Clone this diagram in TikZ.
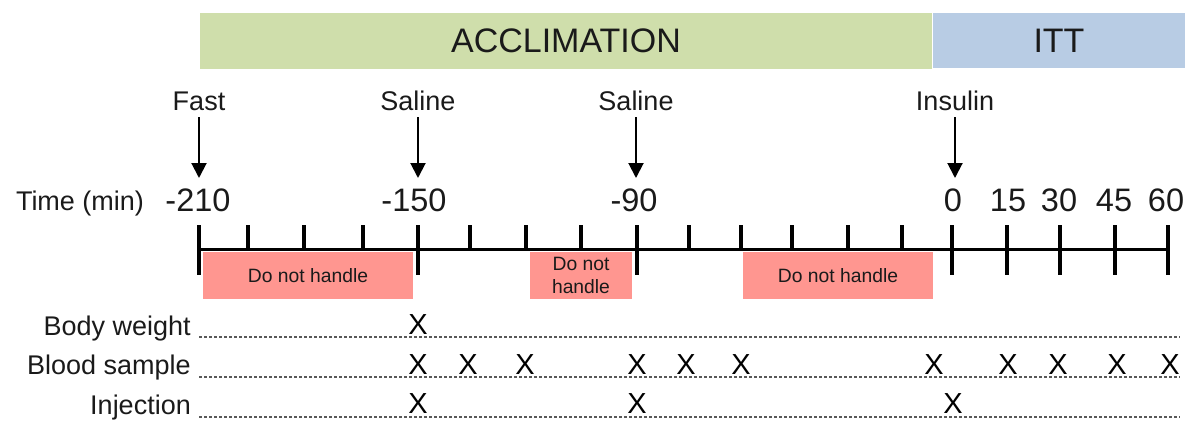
\documentclass[tikz,border=0pt]{standalone}
\usepackage{fontspec}
\setmainfont{Liberation Sans}
\usetikzlibrary{arrows.meta}
\definecolor{acclcol}{HTML}{CFDEAB}
\definecolor{ittcol}{HTML}{B8CCE4}
\definecolor{nohcol}{HTML}{FF9690}
\definecolor{txt}{HTML}{1A1A1A}
\begin{document}
\begin{tikzpicture}[x=1pt,y=-1pt,
  phase/.style={fill=#1,draw=none,inner sep=0pt,text=txt,font=\fontsize{34}{38}\selectfont},
  lbl/.style={inner sep=0pt,text=txt,font=\fontsize{27}{31}\selectfont},
  num/.style={inner sep=0pt,text=txt,font=\fontsize{32.5}{36}\selectfont,anchor=base},
  rowlbl/.style={inner sep=0pt,text=txt,font=\fontsize{27}{31}\selectfont,anchor=base east},
  xmark/.style={inner sep=0pt,text=black,font=\fontsize{29}{32}\selectfont,anchor=base},
  nohbox/.style={fill=nohcol,draw=none,inner sep=0pt,text=txt,align=center,font=\fontsize{19.3}{23}\selectfont,minimum height=47pt},
  arr/.style={line width=2pt,-{Triangle[width=15pt,length=15pt]}},
  axisline/.style={line width=3pt},
  tickmark/.style={line width=3.5pt},
  rowline/.style={draw=black!65,line width=1.1pt,dash pattern=on 3pt off 2pt}
]
\useasboundingbox (0,0) rectangle (1200,434);

% phase bars
\node[phase=acclcol,minimum width=732pt,minimum height=56pt] (accl) at (566,41) {ACCLIMATION};
\node[phase=ittcol,minimum width=252pt,minimum height=55pt] (itt) at (1059,40.5) {ITT};

% event labels and arrows
\node[lbl,anchor=base] (fast) at (199,110) {Fast};
\node[lbl,anchor=base] (sal1) at (418,110) {Saline};
\node[lbl,anchor=base] (sal2) at (636,110) {Saline};
\node[lbl,anchor=base] (ins) at (955,110) {Insulin};
\coordinate (fastend) at (199,178);
\coordinate (sal1end) at (418,178);
\coordinate (sal2end) at (636,178);
\coordinate (insend) at (955,178);
\draw[arr,shorten <=7pt] (fast.south) -- (fastend);
\draw[arr,shorten <=7pt] (sal1.south) -- (sal1end);
\draw[arr,shorten <=7pt] (sal2.south) -- (sal2end);
\draw[arr,shorten <=7pt] (ins.south) -- (insend);

% time labels
\node[lbl,anchor=base] (timelbl) at (80,210) {Time (min)};
\node[num] (n210) at (198,211) {-210};
\node[num] (n150) at (414,211) {-150};
\node[num] (n90) at (634,211) {-90};
\node[num] (n0) at (953,211) {0};
\node[num] (n15) at (1008,211) {15};
\node[num] (n30) at (1059,211) {30};
\node[num] (n45) at (1114,211) {45};
\node[num] (n60) at (1166,211) {60};

% axis
\coordinate (axL) at (199,249);
\coordinate (axR) at (1168,249);
\draw[axisline] (axL) -- (axR);
\foreach \x in {248,304,363,470,526,581,689,741,792,848,902}
  \draw[tickmark] (\x,225) -- (\x,249);
\foreach \x in {199,418,637,952,1007,1060,1115,1168}
  \draw[tickmark] (\x,225) -- (\x,275);

% do not handle boxes
\node[nohbox,minimum width=210pt] (noh1) at (308,275.5) {Do not handle};
\node[nohbox,minimum width=102pt] (noh2) at (581,275.5) {Do not\\handle};
\node[nohbox,minimum width=190pt] (noh3) at (838,275.5) {Do not handle};

% rows
\node[rowlbl] (bw) at (191,335) {Body weight};
\node[rowlbl] (bs) at (191,374) {Blood sample};
\node[rowlbl] (inj) at (191,414) {Injection};
\coordinate (bwL) at (199,337); \coordinate (bwR) at (1180,337);
\coordinate (bsL) at (199,377); \coordinate (bsR) at (1180,377);
\coordinate (injL) at (199,417); \coordinate (injR) at (1180,417);
\draw[rowline] (bwL) -- (bwR);
\draw[rowline] (bsL) -- (bsR);
\draw[rowline] (injL) -- (injR);

% X marks
\node[xmark] (bwx1) at (418,334) {X};
\foreach \x [count=\i] in {418,468,525,637,686,741,934,1008,1058,1117,1170}
  \node[xmark] (bsx\i) at (\x,374) {X};
\node[xmark] (injx1) at (418,413) {X};
\node[xmark] (injx2) at (637,413) {X};
\node[xmark] (injx3) at (953,413) {X};
\end{tikzpicture}
\end{document}
